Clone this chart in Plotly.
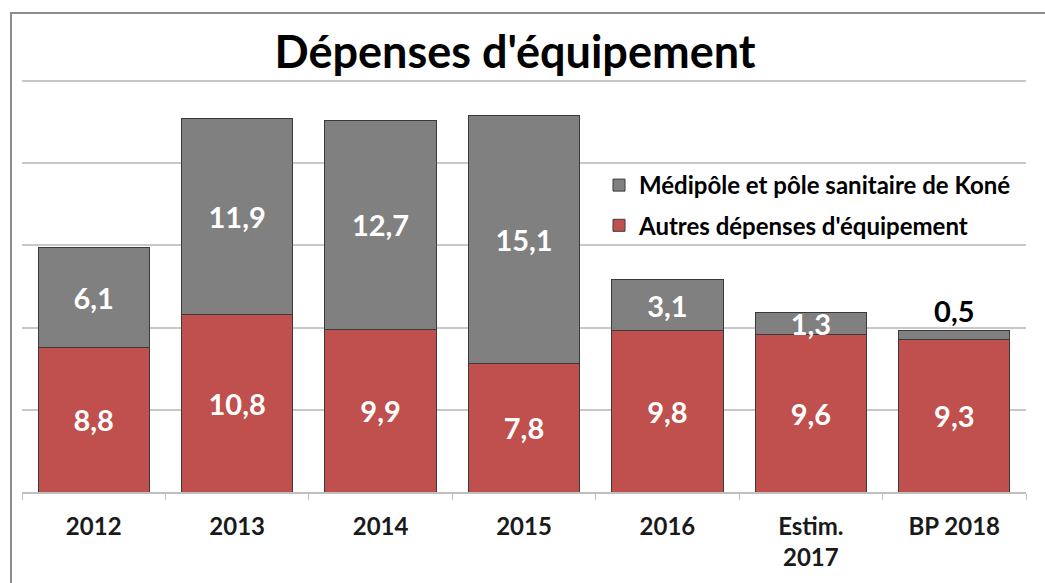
import plotly.graph_objects as go

categories = ["2012", "2013", "2014", "2015", "2016", "Estim.<br>2017", "BP 2018"]
autres = [8.8, 10.8, 9.9, 7.8, 9.8, 9.6, 9.3]
medipole = [6.1, 11.9, 12.7, 15.1, 3.1, 1.3, 0.5]
autres_labels = ["8,8", "10,8", "9,9", "7,8", "9,8", "9,6", "9,3"]
medipole_labels = ["6,1", "11,9", "12,7", "15,1", "3,1", "1,3", "0,5"]

RED = "#C0504D"
GRAY = "#808080"
FONT = "Lato"

W, H = 1045, 583
ml, mr, mt, mb = 22, 19, 78, 91
pw, ph = W - ml - mr, H - mt - mb
YMAX = 25.18

def px_x(X):
    return (X - ml) / pw

def px_y(Y):
    return (H - mb - Y) / ph

fig = go.Figure()
fig.add_trace(go.Bar(
    x=categories, y=autres, name="Autres dépenses d'équipement",
    marker=dict(color=RED, line=dict(color="#3a3a3a", width=1)),
    text=autres_labels, textposition="inside", insidetextanchor="middle",
    textfont=dict(family=FONT, size=29, color="white", weight="bold"),
    constraintext="none", cliponaxis=False,
    legendgroup="autres", legendrank=2,
))
fig.add_trace(go.Bar(
    x=categories, y=medipole, name="Médipôle et pôle sanitaire de Koné",
    marker=dict(color=GRAY, line=dict(color="#3a3a3a", width=1)),
    text=medipole_labels,
    textposition=["inside"] * 6 + ["outside"],
    insidetextanchor="middle",
    insidetextfont=dict(family=FONT, size=29, color="white", weight="bold"),
    outsidetextfont=dict(family=FONT, size=29, color="black", weight="bold"),
    constraintext="none", cliponaxis=False,
    legendgroup="medipole", legendrank=1,
))

fig.update_layout(
    width=W, height=H,
    barmode="stack", bargap=0.225,
    margin=dict(l=ml, r=mr, t=mt, b=mb, autoexpand=False),
    plot_bgcolor="white", paper_bgcolor="white",
    font=dict(family=FONT, color="#1a1a1a"),
    title=dict(text="<b>Dépenses d'équipement</b>", x=515 / W, xanchor="center",
               y=1 - 52 / H, yanchor="middle",
               font=dict(family=FONT, size=45, color="black")),
    showlegend=True,
    legend=dict(x=px_x(599), y=px_y(163), xanchor="left", yanchor="top",
                traceorder="grouped", tracegroupgap=6,
                font=dict(family=FONT, size=24, color="black", weight="bold"),
                bgcolor="rgba(0,0,0,0)", itemwidth=30),
    xaxis=dict(showgrid=False, showline=True, linecolor="#bfbfbf", linewidth=1.5,
               ticks="outside", tickson="boundaries", ticklen=6, tickcolor="#bfbfbf",
               ticklabelstandoff=12, automargin=False,
               tickfont=dict(family=FONT, size=24, color="#1a1a1a", weight="bold")),
    yaxis=dict(range=[0, YMAX], tickvals=[5, 10, 15, 20, 25], showgrid=True,
               gridcolor="#c8c8c8", gridwidth=1.5,
               showticklabels=False, zeroline=False, showline=False, ticks="",
               automargin=False),
    shapes=[dict(type="rect", xref="paper", yref="paper",
                 x0=px_x(11), x1=px_x(1100), y0=px_y(650), y1=px_y(13),
                 line=dict(color="#8c8c8c", width=2), fillcolor="rgba(0,0,0,0)", layer="below")],
)

fig.write_html("out.html", config={"displayModeBar": False},
               post_script="document.body.style.margin='0px';document.body.style.overflow='hidden';")
